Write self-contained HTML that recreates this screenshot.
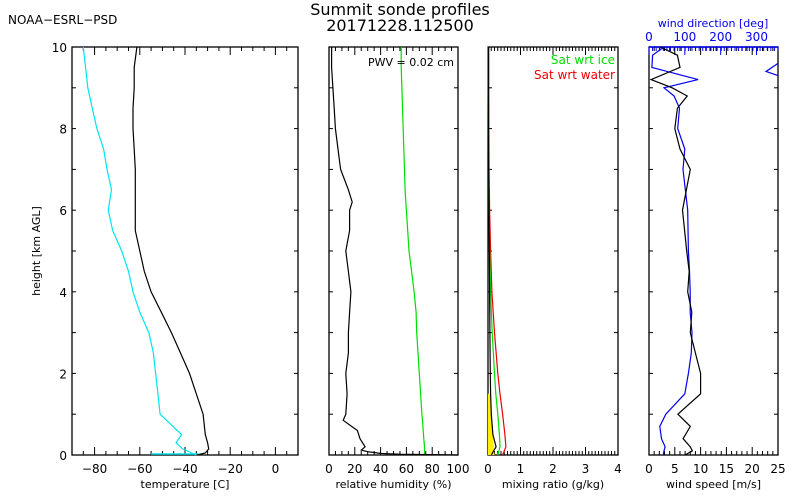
<!DOCTYPE html>
<html><head><meta charset="utf-8"><style>
body{margin:0;background:#fff}
svg{display:block;font-family:"DejaVu Sans","Liberation Sans",sans-serif}
</style></head><body>
<svg id="c" width="800" height="500" viewBox="0 0 800 500">
<text x="8" y="24" font-size="12">NOAA−ESRL−PSD</text>
<text x="400" y="15" font-size="16" text-anchor="middle">Summit sonde profiles</text>
<text x="400" y="31" font-size="16" text-anchor="middle">20171228.112500</text>
<text transform="translate(40,251) rotate(-90)" font-size="11" text-anchor="middle">height [km AGL]</text>
</svg>
<script>
// heights (km)
const hT = [0,0.05,0.15,0.3,0.5,1,1.5,2,2.5,3,3.5,4,4.5,5,5.5,6,6.5,7,7.5,8,8.5,9,9.5,10];
const tempVals = [-34.8,-31,-29.5,-30,-31,-32,-35,-38,-42,-46,-50.5,-55,-58,-60,-62,-62,-62,-62,-62.5,-63,-63,-62.5,-62.5,-61.3];
const frostVals = [-35,-37,-41,-44,-41.5,-51,-52,-53,-54,-56,-60,-63,-65,-68,-72,-74,-72.5,-74.5,-76,-79,-81,-83,-84,-85];
const hRH = [0,0.02,0.04,0.08,0.12,0.2,0.4,0.6,0.85,1,1.5,2,2.5,3,3.5,4,4.5,5,5.5,6,6.2,6.5,7,7.5,8,8.5,9,9.5,10];
const rhVals = [100,55,40,30,25,28,24,22,11,13,14,13,15,15,16,17,15,13,16,16,18,15,9,7,5,4,3,2,2];
const rhIceVals = [74,74,74,74,74,74,73.5,73,72.5,72,71,70,69,68,67.5,66,64,62,61,60,59.5,59,58.5,58,57.5,57,56.5,56,56];
const hMR = [0,0.2,0.5,1,1.5,2,3,4,5,6,7,8,9,10];
const mrVals = [0.1,0.25,0.15,0.1,0.08,0.07,0.06,0.05,0.04,0.03,0.02,0.02,0.02,0.02];
const satIceVals = [0.3,0.37,0.35,0.3,0.24,0.2,0.13,0.08,0.05,0.03,0.02,0.015,0.01,0.01];
const satWaterVals = [0.45,0.55,0.52,0.45,0.37,0.3,0.2,0.12,0.08,0.05,0.035,0.025,0.02,0.02];
const hW = [0,0.1,0.2,0.4,0.7,1,1.5,2,2.5,3,3.5,4,4.5,5,6,7,7.5,8,8.5,8.8,9,9.2,9.5,9.8,10];
const speedVals = [7,8.4,8,6.6,8,5.6,10,10,9,8,8.3,7.5,7.8,7.3,6.5,8,6,5,5.5,7.4,4.5,0.4,6,5.5,2.2];
const dirVals = [40,42,45,35,30,47,100,110,118,120,115,115,113,110,108,95,100,80,85,70,42,137,8,10,42];
const speedTicks=[0,5,10,15,20,25], dirTicks=[0,100,200,300];

const svg=document.getElementById('c'), NS='http://www.w3.org/2000/svg';
const Y0=455, Y1=47;
const yS=h=>Y0-(Y0-Y1)*h/10;
function mk(t,a){const e=document.createElementNS(NS,t);for(const k in a)e.setAttribute(k,a[k]);svg.appendChild(e);return e;}
function lin(d0,d1,p0,p1){return v=>p0+(v-d0)/(d1-d0)*(p1-p0);}
function line(xs,hs,xf,col,name,dash){
  const d=xs.map((v,i)=>(i?'L':'M')+xf(v).toFixed(1)+','+yS(hs[i]).toFixed(1)).join('');
  const p=mk('path',{d:d,fill:'none',stroke:col,'stroke-width':1.2});
  if(dash)p.setAttribute('stroke-dasharray',dash);
  
  
  return p;}
function panel(x0,x1,d0,d1,minor,major,labels,title,name){
  const xf=lin(d0,d1,x0,x1);
  const r=mk('rect',{x:x0,y:Y1,width:x1-x0,height:Y0-Y1,fill:'none',stroke:'#000','stroke-width':1.3});
  
  
  for(let v=d0;v<=d1+1e-9;v+=minor){
    const x=xf(v), big=Math.abs(v/major-Math.round(v/major))<1e-6;const L=big?8:4;
    mk('line',{x1:x,x2:x,y1:Y0,y2:Y0-L,stroke:'#000'});
    mk('line',{x1:x,x2:x,y1:Y1,y2:Y1+L,stroke:'#000'});}
  for(let h=0;h<=10;h++){mk('line',{x1:x1,x2:x1-4,y1:yS(h),y2:yS(h),stroke:'#000'});mk('line',{x1:x0,x2:x0+4,y1:yS(h),y2:yS(h),stroke:'#000'});}
  labels.forEach(v=>{const t=mk('text',{x:xf(v),y:Y0+18,'font-size':12,'text-anchor':'middle'});t.textContent=String(v).replace('-','−');
    
    });
  const t=mk('text',{x:(x0+x1)/2,y:Y0+33,'font-size':11,'text-anchor':'middle'});t.textContent=title;
  
  
  return xf;}
[0,2,4,6,8,10].forEach(h=>{const t=mk('text',{x:67,y:yS(h)+5,'font-size':12,'text-anchor':'end'});t.textContent=h;
  
  });

const xT=panel(72,298,-90,10,5,20,[-80,-60,-40,-20,0],'temperature [C]','temperature-panel');
mk('line',{x1:xT(-55),x2:xT(-34),y1:Y0-1,y2:Y0-1,stroke:'#00e5ee','stroke-width':1.5});
line(frostVals,hT,xT,'#00e5ee','frost-point-line');
line(tempVals,hT,xT,'#000','temperature-line');

const xR=panel(329,458,0,100,5,20,[0,20,40,60,80,100],'relative humidity (%)','rh-panel');
line(rhIceVals,hRH,xR,'#00dd00','rh-ice-line');
line(rhVals,hRH,xR,'#000','rh-line');
let t=mk('text',{x:454,y:66,'font-size':11,'text-anchor':'end'});t.textContent='PWV = 0.02 cm';



const xM=panel(488,618,0,4,0.1,1,[0,1,2,3,4],'mixing ratio (g/kg)','mixing-panel');
const yy=mk('path',{d:`M${xM(0)},${yS(0)}L${xM(0.2)},${yS(0)}L${xM(0.15)},${yS(0.5)}L${xM(0.08)},${yS(1.5)}L${xM(0)},${yS(1.5)}Z`,fill:'#ffee00'});


line(satWaterVals,hMR,xM,'#ee0000','sat-water-line');
line(satIceVals,hMR,xM,'#00dd00','sat-ice-line');
line(mrVals,hMR,xM,'#000','mixing-ratio-line');
t=mk('text',{x:615,y:64,'font-size':12,'text-anchor':'end',fill:'#00dd00'});t.textContent='Sat wrt ice';


t=mk('text',{x:615,y:79,'font-size':12,'text-anchor':'end',fill:'#ee0000'});t.textContent='Sat wrt water';



const xW=panel(649,778,0,25,1,5,speedTicks,'wind speed [m/s]','wind-panel');
const xD=lin(0,360,649,778);
mk('line',{x1:649,x2:778,y1:Y1,y2:Y1,stroke:'#0000ee','stroke-width':1.5});
for(let v=0;v<=360;v+=10){const big=v%100==0;mk('line',{x1:xD(v),x2:xD(v),y1:Y1,y2:Y1+(big?8:4),stroke:'#0000ee'});}
dirTicks.forEach(v=>{const e=mk('text',{x:xD(v),y:41,'font-size':12,'text-anchor':'middle',fill:'#0000ee'});e.textContent=v;
  
  });
t=mk('text',{x:713,y:27,'font-size':11,'text-anchor':'middle',fill:'#0000ee'});t.textContent='wind direction [deg]';


line(dirVals,hW,xD,'#0000ee','wind-direction-line');
line(speedVals,hW,xW,'#000','wind-speed-line');
mk('path',{d:`M778,${yS(9.6)}L766,${yS(9.4)}L778,${yS(9.3)}`,fill:'none',stroke:'#0000ee','stroke-width':1.2});
</script>
</body></html>
